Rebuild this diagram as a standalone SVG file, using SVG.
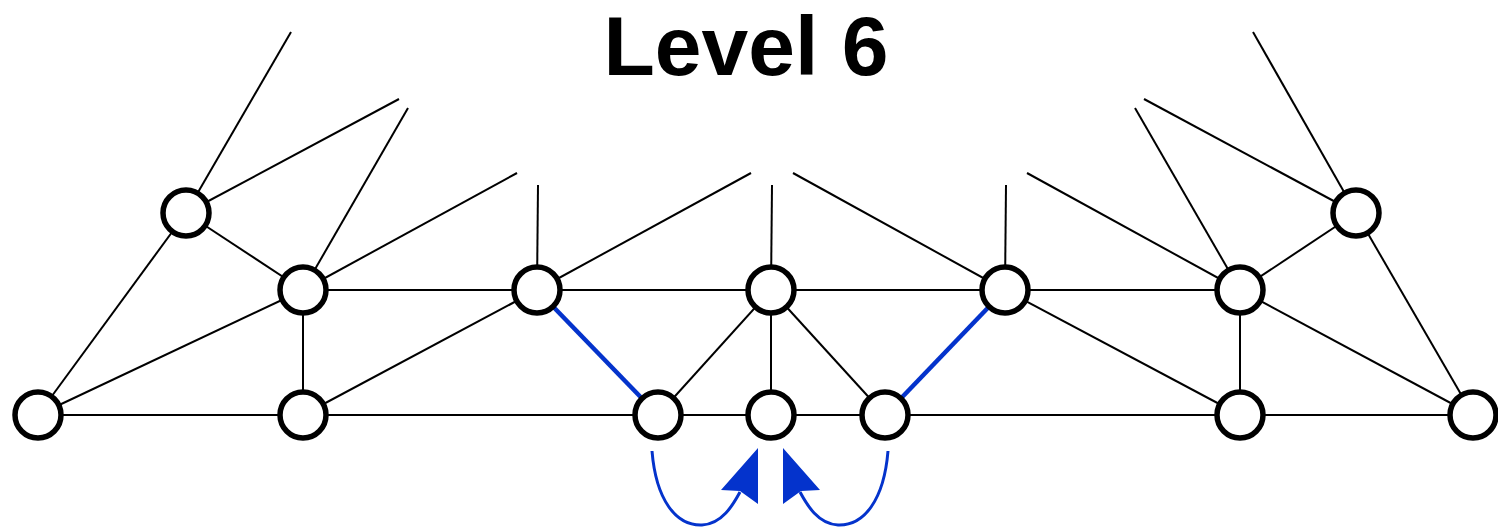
<svg xmlns="http://www.w3.org/2000/svg" width="1498" height="530" viewBox="0 0 1498 530">
<style>
.e{stroke:#000;stroke-width:2;fill:none}
.b{stroke:#0433cc;stroke-width:4.5;fill:none}
.c{stroke:#0433cc;stroke-width:3;fill:none}
.n{fill:#fff;stroke:#000;stroke-width:5.5}
.t{font-family:"Liberation Sans",Arial,sans-serif;font-weight:bold;font-size:84px;fill:#000}
</style>
<rect width="1498" height="530" fill="#fff"/>
<text class="t" x="746" y="75" text-anchor="middle">Level 6</text>
<g id="connectors">
<line class="e" x1="186" y1="213" x2="291" y2="32"/>
<line class="e" x1="186" y1="213" x2="399" y2="99"/>
<line class="e" x1="186" y1="213" x2="303" y2="290"/>
<line class="e" x1="186" y1="213" x2="38" y2="415"/>
<line class="e" x1="303" y1="290" x2="408" y2="108"/>
<line class="e" x1="303" y1="290" x2="517" y2="173"/>
<line class="e" x1="303" y1="290" x2="537" y2="290"/>
<line class="e" x1="303" y1="290" x2="303" y2="415"/>
<line class="e" x1="303" y1="290" x2="38" y2="415"/>
<line class="e" x1="38" y1="415" x2="1473" y2="415"/>
<line class="e" x1="303" y1="415" x2="537" y2="290"/>
<line class="e" x1="537" y1="290" x2="538" y2="185"/>
<line class="e" x1="537" y1="290" x2="751" y2="173"/>
<line class="e" x1="537" y1="290" x2="1240" y2="290"/>
<line class="e" x1="771" y1="290" x2="772" y2="185"/>
<line class="e" x1="771" y1="290" x2="658" y2="415"/>
<line class="e" x1="771" y1="290" x2="771" y2="415"/>
<line class="e" x1="771" y1="290" x2="885" y2="415"/>
<line class="e" x1="1005" y1="290" x2="793" y2="173"/>
<line class="e" x1="1005" y1="290" x2="1006" y2="185"/>
<line class="e" x1="1005" y1="290" x2="1240" y2="415"/>
<line class="e" x1="1240" y1="290" x2="1027" y2="173"/>
<line class="e" x1="1240" y1="290" x2="1135" y2="108"/>
<line class="e" x1="1240" y1="290" x2="1356" y2="213"/>
<line class="e" x1="1240" y1="290" x2="1240" y2="415"/>
<line class="e" x1="1240" y1="290" x2="1473" y2="415"/>
<line class="e" x1="1356" y1="213" x2="1144" y2="99"/>
<line class="e" x1="1356" y1="213" x2="1253" y2="32"/>
<line class="e" x1="1356" y1="213" x2="1473" y2="415"/>
<line class="b" x1="537" y1="290" x2="658" y2="415"/>
<line class="b" x1="1005" y1="290" x2="885" y2="415"/>
<path class="c" d="M652,451 C656,500 676,526 702,525 C722,524 733,505 740,492"/>
<path class="c" d="M888,451 C884,500 864,526 838,525 C818,524 807,505 800,492"/>
<path fill="#0433cc" d="M758,448 L758,504 L740,491 L721,490 Z"/>
<path fill="#0433cc" d="M783,448 L783,504 L801,491 L820,490 Z"/>
</g>
<g id="n1"><circle class="n" cx="186" cy="213" r="23"/></g>
<g id="n2"><circle class="n" cx="1356" cy="213" r="23"/></g>
<g id="n3"><circle class="n" cx="303" cy="290" r="23"/></g>
<g id="n4"><circle class="n" cx="537" cy="290" r="23"/></g>
<g id="n5"><circle class="n" cx="771" cy="290" r="23"/></g>
<g id="n6"><circle class="n" cx="1005" cy="290" r="23"/></g>
<g id="n7"><circle class="n" cx="1240" cy="290" r="23"/></g>
<g id="n8"><circle class="n" cx="38" cy="415" r="23"/></g>
<g id="n9"><circle class="n" cx="303" cy="415" r="23"/></g>
<g id="n10"><circle class="n" cx="658" cy="415" r="23"/></g>
<g id="n11"><circle class="n" cx="771" cy="415" r="23"/></g>
<g id="n12"><circle class="n" cx="885" cy="415" r="23"/></g>
<g id="n13"><circle class="n" cx="1240" cy="415" r="23"/></g>
<g id="n14"><circle class="n" cx="1473" cy="415" r="23"/></g>
</svg>
